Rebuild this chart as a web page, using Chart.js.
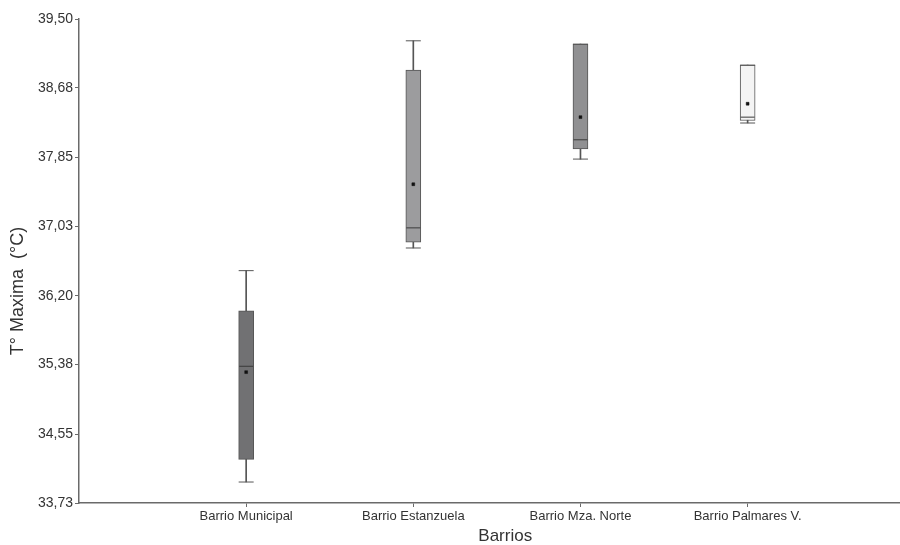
<!DOCTYPE html>
<html>
<head>
<meta charset="utf-8">
<script src="https://cdn.jsdelivr.net/npm/chart.js@4.4.1/dist/chart.umd.min.js"></script>
<style>
  html, body { margin: 0; padding: 0; background: #fff; overflow: hidden; }
  #wrap { width: 940px; height: 545px; position: relative; }
</style>
</head>
<body>
<div id="wrap"><canvas id="boxChart"></canvas></div>
<script>
// Datos
const categories = ['Barrio Municipal', 'Barrio Estanzuela', 'Barrio Mza. Norte', 'Barrio Palmares V.'];
const minVals    = [33.98, 36.77, 37.83, 38.26];
const q1Vals     = [34.25, 36.84, 37.95, 38.29];
const medianVals = [35.36, 37.01, 38.06, 38.33];
const meanVals   = [35.29, 37.53, 38.33, 38.49];
const q3Vals     = [36.02, 38.89, 39.20, 38.95];
const maxVals    = [36.50, 39.24, 39.20, 38.95];
const yTicks     = [33.73, 34.55, 35.38, 36.20, 37.03, 37.85, 38.68, 39.50];

const boxColors = ['#717173', '#9c9c9e', '#909092', '#f4f4f4'];
const lineColor = '#555555';
const axisColor = '#6a6a6a';
const font = 'Liberation Sans, Arial, sans-serif';

const pos = categories.map((c, i) => i + 1);
const pts = arr => arr.map((v, i) => ({ x: pos[i], y: v }));

const boxChart = new Chart(
    document.getElementById('boxChart'),
    {
        type: 'bar',
        data: {
            datasets: [
                {
                    // bigotes
                    type: 'bar',
                    data: pos.map((x, i) => ({ x: x, y: [minVals[i], maxVals[i]] })),
                    backgroundColor: lineColor,
                    barThickness: 1,
                    grouped: false,
                    order: 5
                },
                {
                    // cajas
                    type: 'bar',
                    data: pos.map((x, i) => ({ x: x, y: [q1Vals[i], q3Vals[i]] })),
                    backgroundColor: boxColors,
                    borderColor: lineColor,
                    borderWidth: 1,
                    borderSkipped: false,
                    barThickness: 15,
                    grouped: false,
                    order: 4
                },
                {
                    // topes de bigotes
                    type: 'scatter',
                    data: pts(minVals).concat(pts(maxVals)),
                    pointStyle: 'line',
                    radius: 7.5,
                    borderColor: lineColor,
                    borderWidth: 1,
                    order: 3
                },
                {
                    // mediana
                    type: 'scatter',
                    data: pts(medianVals),
                    pointStyle: 'line',
                    radius: 7,
                    borderColor: '#3a3a3a',
                    borderWidth: 1,
                    order: 2
                },
                {
                    // media
                    type: 'scatter',
                    data: pts(meanVals),
                    pointStyle: 'rect',
                    radius: 2,
                    backgroundColor: '#111',
                    borderColor: '#111',
                    borderWidth: 0.5,
                    order: 1
                }
            ]
        },
        options: {
            responsive: true,
            maintainAspectRatio: false,
            animation: false,
            layout: { padding: { top: 19, right: 0, left: 0, bottom: 0 } },
            plugins: {
                legend: { display: false },
                tooltip: { enabled: false }
            },
            scales: {
                x: {
                    type: 'linear',
                    min: 0,
                    max: 5.1,
                    offset: false,
                    afterBuildTicks: scale => { scale.ticks = pos.map(v => ({ value: v })); },
                    afterFit: scale => {
                        scale.height = 42;
                        scale.paddingLeft = 0;
                        scale.paddingRight = 0;
                    },
                    ticks: {
                        callback: v => categories[v - 1],
                        font: { family: font, size: 13 },
                        color: '#333',
                        padding: 2,
                        maxRotation: 0,
                        autoSkip: false
                    },
                    grid: { drawOnChartArea: false, offset: false, tickLength: 4, color: axisColor },
                    border: { color: axisColor, width: 1.5 },
                    title: {
                        display: true,
                        text: 'Barrios',
                        font: { family: font, size: 17, lineHeight: 1 },
                        color: '#333',
                        padding: { top: 0, bottom: 0 }
                    }
                },
                y: {
                    min: 33.73,
                    max: 39.50,
                    afterBuildTicks: scale => { scale.ticks = yTicks.map(v => ({ value: v })); },
                    afterFit: scale => { scale.width = 79; },
                    ticks: {
                        callback: v => v.toFixed(2).replace('.', ','),
                        font: { family: font, size: 14 },
                        color: '#333',
                        padding: 2
                    },
                    grid: { drawOnChartArea: false, tickLength: 4, color: axisColor },
                    border: { color: axisColor, width: 1.5 },
                    title: {
                        display: true,
                        // espacios finales: el título queda más abajo, como en el original
                        text: 'T° Maxima  (°C)            ',
                        font: { family: font, size: 18, lineHeight: 1 },
                        color: '#333',
                        padding: { top: 9, bottom: 0 }
                    }
                }
            }
        }
    }
);
</script>
</body>
</html>
